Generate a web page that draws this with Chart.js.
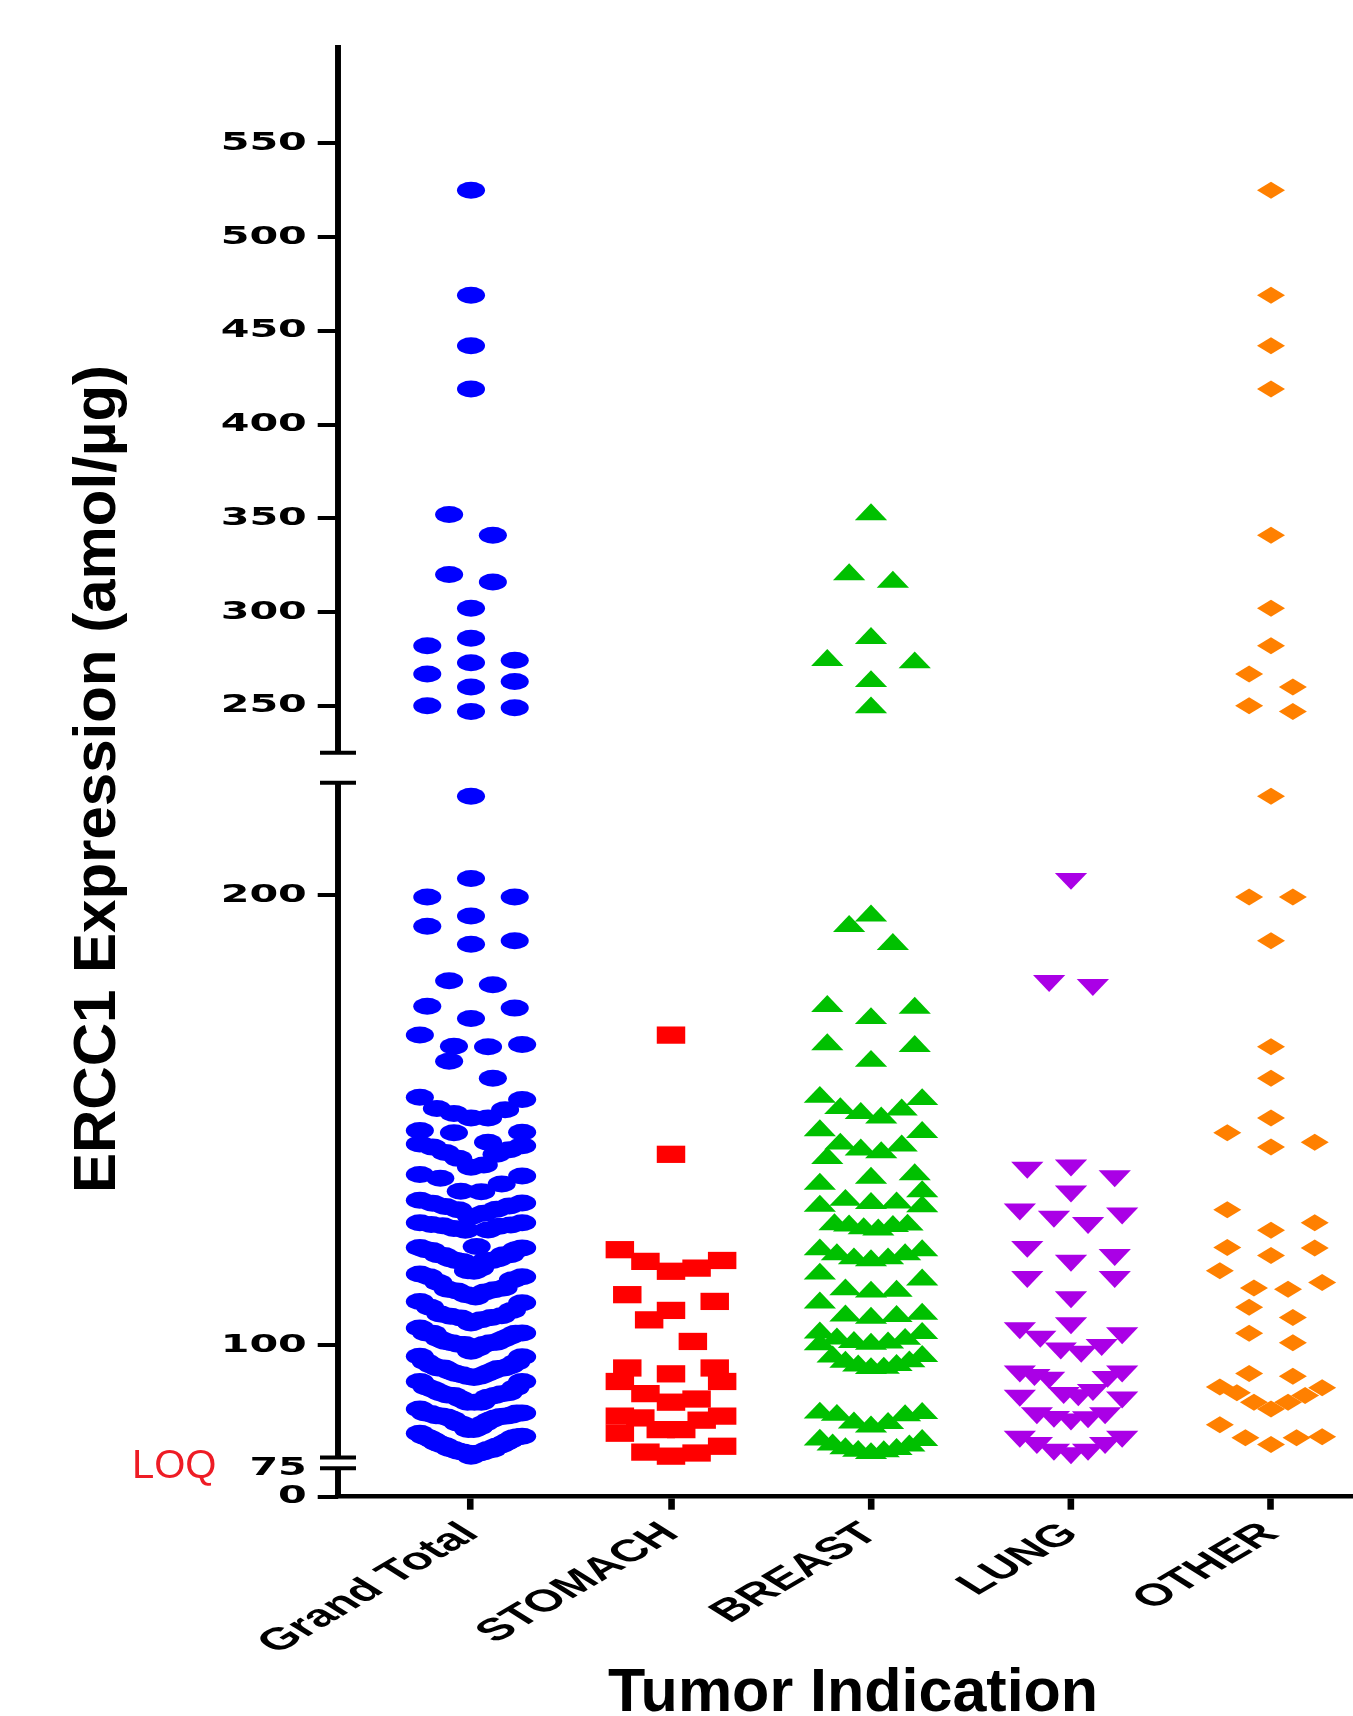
<!DOCTYPE html>
<html>
<head>
<meta charset="utf-8">
<script src="https://cdn.jsdelivr.net/npm/chart.js@4.4.1/dist/chart.umd.min.js"></script>
<style>
  html, body { margin: 0; padding: 0; background: #ffffff; }
  canvas { display: block; }
</style>
</head>
<body>
<canvas id="c" width="820" height="1716" style="width:820px;height:1716px"></canvas>
<script>
// ---------------- data ----------------
const CATEGORIES = ['Grand Total', 'STOMACH', 'BREAST', 'LUNG', 'OTHER'];

const STOMACH = [168.9, 142.4, 121.2, 118.6, 116.4, 117.1, 118.8, 109.7, 107.7, 105.6, 111.2, 100.8,
  94.9, 93.6, 94.9, 91.9, 91.9, 89.2, 87.3, 88.0, 84.2, 84.2, 83.8, 83.3, 81.2, 81.2, 80.4,
  76.0, 75.3, 76.2, 77.5];

const BREAST = [352, 320, 316, 286, 274.3, 273, 263, 249,
  195.4, 193.1, 189.1, 175.3, 174.9, 172.6, 166.4, 166.8, 163.1, 155.1, 152.3, 152.6, 154.6, 151.5,
  150.5, 147.7, 147.3, 144.7, 142.8, 141.5, 144.3, 143.4, 137.1, 137.9, 135.8, 134.1, 131.5, 132.2,
  130.8, 130.9, 131.6, 126.8, 126.4, 125.6, 125.9, 126.5, 126.7, 121.2, 120.1, 119.2, 118.8, 119.2,
  120.1, 121.0, 114.5, 115.8, 112.0, 112.3, 111.8, 109.4, 106.5, 106.0, 106.4, 106.9, 102.7, 101.3,
  100.5, 100.1, 100.2, 100.6, 101.4, 102.6, 97.5, 96.2, 95.4, 94.8, 94.9, 95.5, 96.3, 97.4,
  84.4, 84.8, 82.7, 81.8, 82.6, 84.9, 84.3, 78.9, 77.6, 76.8, 76.3, 75.9, 76.4, 77.0, 77.8, 78.8];

const LUNG = [203.7, 181.0, 180.1, 139.5, 137.6, 140.0, 134.2, 129.3, 127.2, 128.6, 130.2, 120.1,
  118.8, 121.9, 115.2, 115.2, 110.7, 104.9, 102.7, 103.8, 101.9, 100.1, 98.6, 99.3, 94.2, 94.2,
  93.0, 93.4, 92.8, 89.4, 90.1, 88.9, 88.4, 88.8, 84.9, 84.9, 84.1, 83.5, 84.0, 79.7, 78.3, 76.8,
  76.0, 76.8, 78.3, 79.7];

const OTHER = [525, 469, 442, 419, 341, 302, 282, 267, 260, 250, 247,
  222.0, 199.6, 199.6, 189.9, 166.3, 159.3, 150.5, 147.2, 144.0, 145.1, 130.1, 127.2, 125.5, 121.7,
  119.9, 121.6, 116.5, 112.7, 112.4, 113.9, 108.4, 106.1, 102.6, 100.5, 93.05, 93.65, 90.5, 88.8,
  87.3, 85.8, 87.3, 89.4, 90.7, 82.3, 79.4, 77.9, 79.4, 79.6];

// Grand Total is the pooled set of all tumour indications
const GRAND_TOTAL = [].concat(STOMACH, BREAST, LUNG, OTHER);

const Y_TICKS = [0, 75, 100, 200, 250, 300, 350, 400, 450, 500, 550];
const Y_TITLE = 'ERCC1 Expression (amol/\u00B5g)';
const X_TITLE = 'Tumor Indication';
const LOQ_TEXT = 'LOQ';

// ---------------- layout / style ----------------
const SX = 1.65;                 // horizontal stretch of the plot (reference is stretched)
const FULL_W = 1353, FULL_H = 1716;
const AXIS_X_FULL = 338;         // y axis line position (page px)
const CAT0_FULL = 471;           // first category centre (page px)
const CAT_STEP_FULL = 200;       // category spacing (page px)
const PLOT_TOP = 45, PLOT_BOTTOM = 1496.7;
const X_MIN = (AXIS_X_FULL - CAT0_FULL) / CAT_STEP_FULL;
const X_MAX = (FULL_W - CAT0_FULL) / CAT_STEP_FULL;

// broken y axis: value ranges and their place (fraction of axis height from top)
const Y_SEGMENTS = [
  { min: 0,   max: 75,    top: 0.9804, bottom: 1.0 },
  { min: 75,  max: 225,   top: 0.5082, bottom: 0.9730 },
  { min: 225, max: 602.4, top: 0.0,    bottom: 0.4875 }
];

// swarm spacing (logical px)
const ROW_PX = 24, STEP_MAX = 26.5, HALF_MAX = 31;

class BrokenLinearScale extends Chart.LinearScale {
  static id = 'brokenLinear';
  buildTicks() { return Y_TICKS.map(v => ({ value: v })); }
  _seg(value) {
    for (const s of Y_SEGMENTS) if (value >= s.min && value <= s.max) return s;
    return value > 225 ? Y_SEGMENTS[Y_SEGMENTS.length - 1] : Y_SEGMENTS[0];
  }
  getPixelForValue(value) {
    const s = this._seg(value);
    const h = this.bottom - this.top;
    const t = (value - s.min) / (s.max - s.min);
    return this.top + h * (s.bottom + (s.top - s.bottom) * t);
  }
  getValueForPixel(pixel) {
    const h = this.bottom - this.top;
    const f = (pixel - this.top) / h;
    for (const s of Y_SEGMENTS) {
      if (f >= s.top && f <= s.bottom) {
        return s.min + (s.bottom - f) / (s.bottom - s.top) * (s.max - s.min);
      }
    }
    return 0;
  }
}
Chart.register(BrokenLinearScale);

const stretchPlugin = {
  id: 'stretch',
  beforeDraw(chart) { chart.ctx.setTransform(SX, 0, 0, 1, 0, 0); }
};

const axisBreakPlugin = {
  id: 'axisBreaks',
  afterDatasetsDraw(chart) {
    const ctx = chart.ctx, ys = chart.scales.y;
    const x0 = ys.right, h = ys.bottom - ys.top;
    const capHalf = 18 / SX;
    const segs = Y_SEGMENTS.slice().sort((a, b) => a.top - b.top);
    ctx.save();
    ctx.strokeStyle = '#000';
    segs.forEach((s, i) => {
      const top = ys.top + h * s.top, bot = ys.top + h * s.bottom;
      ctx.lineWidth = 3.6;
      ctx.beginPath(); ctx.moveTo(x0, top); ctx.lineTo(x0, bot); ctx.stroke();
      ctx.lineWidth = 4;
      if (i > 0) { ctx.beginPath(); ctx.moveTo(x0 - capHalf, top); ctx.lineTo(x0 + capHalf, top); ctx.stroke(); }
      if (i < segs.length - 1) { ctx.beginPath(); ctx.moveTo(x0 - capHalf, bot); ctx.lineTo(x0 + capHalf, bot); ctx.stroke(); }
    });
    ctx.restore();
  }
};

const titlesPlugin = {
  id: 'titles',
  afterDraw(chart) {
    const ctx = chart.ctx;
    ctx.save();
    ctx.setTransform(1, 0, 0, 1, 0, 0);
    ctx.fillStyle = '#000';
    ctx.font = 'bold 61px "Liberation Sans", Arial, sans-serif';
    ctx.textAlign = 'center';
    ctx.textBaseline = 'alphabetic';
    ctx.fillText(X_TITLE, 853, 1711);
    ctx.save();
    ctx.translate(115, 779);
    ctx.rotate(-Math.PI / 2);
    ctx.font = 'bold 60px "Liberation Sans", Arial, sans-serif';
    ctx.fillText(Y_TITLE, 0, 0);
    ctx.restore();
    ctx.fillStyle = '#EE1C25';
    ctx.font = '40px "Liberation Sans", Arial, sans-serif';
    ctx.textAlign = 'left';
    ctx.fillText(LOQ_TEXT, 132, 1478);
    ctx.restore();
  }
};

const GROUPS = [GRAND_TOTAL, STOMACH, BREAST, LUNG, OTHER];
const STYLES = [
  { pointStyle: 'circle',   radius: 8.5,  color: '#0000FF', rotation: 0 },
  { pointStyle: 'rect',     radius: 12.2, color: '#FF0000', rotation: 0 },
  { pointStyle: 'triangle', radius: 11.3, color: '#00C000', rotation: 0 },
  { pointStyle: 'triangle', radius: 11.3, color: '#AA00E6', rotation: 180 },
  { pointStyle: 'rectRot',  radius: 8.5,  color: '#FF8000', rotation: 0 }
];

const canvas = document.getElementById('c');
const chart = new Chart(canvas, {
  type: 'scatter',
  data: {
    datasets: GROUPS.map((vals, gi) => ({
      label: CATEGORIES[gi],
      data: vals.map(v => ({ x: gi, y: v })),
      pointStyle: STYLES[gi].pointStyle,
      pointRadius: STYLES[gi].radius,
      pointRotation: STYLES[gi].rotation,
      pointBackgroundColor: STYLES[gi].color,
      backgroundColor: STYLES[gi].color,
      pointBorderWidth: 0,
      borderWidth: 0,
      clip: false
    }))
  },
  options: {
    responsive: false,
    animation: false,
    devicePixelRatio: 1,
    events: [],
    layout: { padding: { top: PLOT_TOP, left: 0, right: 0, bottom: 0 }, autoPadding: false },
    plugins: { legend: { display: false }, tooltip: { enabled: false } },
    scales: {
      x: {
        type: 'linear',
        min: X_MIN, max: X_MAX,
        afterBuildTicks: (scale) => { scale.ticks = CATEGORIES.map((_, i) => ({ value: i })); },
        afterFit: (scale) => { scale.height = FULL_H - PLOT_BOTTOM; },
        border: { display: true, color: '#000', width: 4.5 },
        grid: { display: true, drawOnChartArea: false, drawTicks: true, tickLength: 13, color: '#000', lineWidth: 4 },
        ticks: {
          autoSkip: false, maxRotation: 44, minRotation: 44, padding: 6,
          color: '#000',
          font: { family: '"Liberation Sans", Arial, sans-serif', weight: 'bold', size: 31 },
          callback: (value, index) => CATEGORIES[index]
        }
      },
      y: {
        type: 'brokenLinear',
        min: 0, max: 602.4,
        afterFit: (scale) => { scale.width = AXIS_X_FULL / SX; },
        border: { display: false },
        grid: {
          display: true, drawOnChartArea: false, drawTicks: true, tickLength: 12.3, lineWidth: 4,
          color: '#000',
          tickColor: (c) => (c.tick && c.tick.value === 75) ? 'rgba(0,0,0,0)' : '#000'
        },
        ticks: {
          autoSkip: false, padding: 6.6, color: '#000',
          font: { family: '"DejaVu Sans", sans-serif', weight: 'bold', size: 25 },
          callback: (v) => String(v)
        }
      }
    }
  },
  plugins: [stretchPlugin, axisBreakPlugin, titlesPlugin]
});

// stretch the drawing surface to the full page width
canvas.width = FULL_W;
canvas.style.width = FULL_W + 'px';

// column-scatter (swarm) spreading: rows of nearby values, spread symmetrically
function swarmOffsets(values, yScale) {
  const order = values.map((_, i) => i).sort((a, b) => values[a] - values[b]);
  const offsets = new Array(values.length).fill(0);
  let row = [], rowStart = 0;
  const flush = () => {
    const n = row.length;
    const d = n > 1 ? Math.min(STEP_MAX, 2 * HALF_MAX / (n - 1)) : 0;
    row.forEach((id, k) => {
      let slot;
      if (n % 2 === 1) slot = k === 0 ? 0 : Math.ceil(k / 2) * (k % 2 === 1 ? 1 : -1);
      else slot = (Math.floor(k / 2) + 0.5) * (k % 2 === 0 ? 1 : -1);
      offsets[id] = slot * d;
    });
    row = [];
  };
  order.forEach(id => {
    const py = yScale.getPixelForValue(values[id]);
    if (row.length && rowStart - py >= ROW_PX) flush();
    if (!row.length) rowStart = py;
    row.push(id);
  });
  flush();
  return offsets;
}

const xs = chart.scales.x, ysc = chart.scales.y;
const unitPx = xs.getPixelForValue(1) - xs.getPixelForValue(0);
GROUPS.forEach((vals, gi) => {
  const offs = swarmOffsets(vals, ysc);
  chart.data.datasets[gi].data = vals.map((v, i) => ({ x: gi + offs[i] / unitPx, y: v }));
});
chart.update('none');
</script>
</body>
</html>
